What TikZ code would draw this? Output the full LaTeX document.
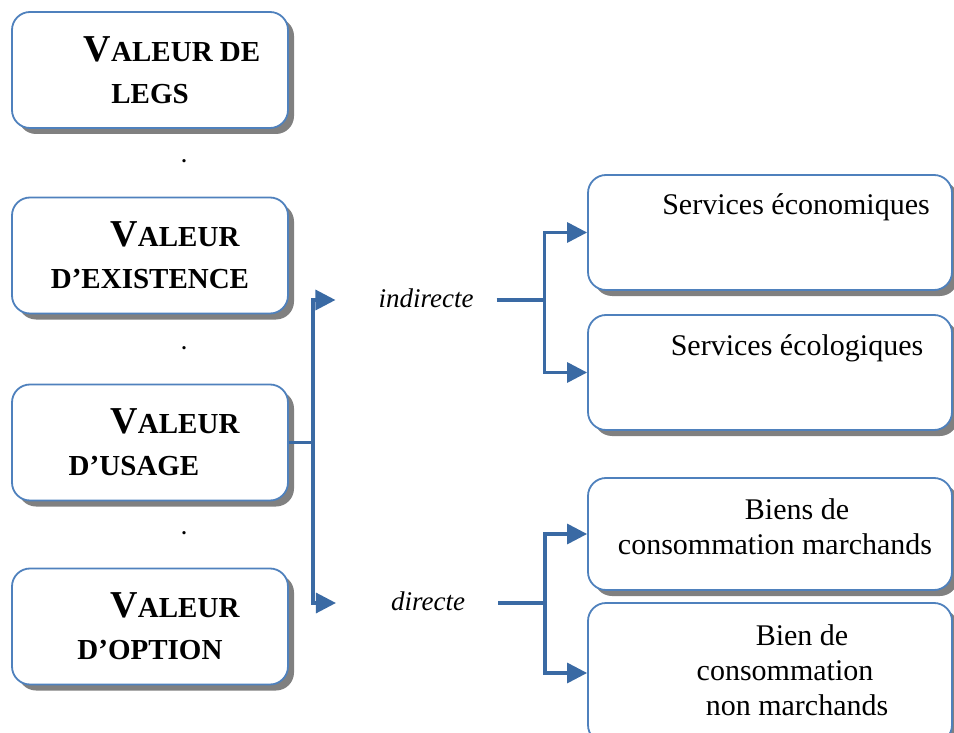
\documentclass[tikz,border=0pt]{standalone}
\usepackage{fontspec}
\setmainfont{Liberation Serif}
\usepackage{tikz}
\usetikzlibrary{arrows.meta,shadows}

\definecolor{boxblue}{RGB}{79,129,189}
\definecolor{linkblue}{RGB}{58,106,164}
\definecolor{shadowgray}{RGB}{128,128,128}

% Word-style small capitals: one big letter, the rest smaller.
\newcommand{\scbig}[1]{{\fontsize{19}{21}\selectfont #1}}

\tikzset{
	valbox/.style={draw=boxblue, line width=0.9pt, rounded corners=9pt, fill=white,
		minimum width=138pt, minimum height=58pt, align=center,
		font=\bfseries\fontsize{14.5}{21}\selectfont,
		drop shadow={shadow xshift=3pt, shadow yshift=-3pt, fill=shadowgray, opacity=1}},
	svcbox/.style={valbox, minimum width=182pt, minimum height=57.5pt},
	svctext/.style={align=center, font=\fontsize{15}{17.5}\selectfont},
	kindtext/.style={font=\itshape\fontsize{13.5}{16}\selectfont},
	link/.style={draw=linkblue, line width=1.6pt},
	linkarrow/.style={link, -{Triangle[length=10pt,width=10pt]}}
}

\begin{document}
\begin{tikzpicture}[x=0.5pt, y=-0.5pt]
		\clip (0,0) rectangle (954,733);

		% Value boxes.
		\node[valbox] (legs) at (150,70) {\hspace*{22pt}\scbig{V}ALEUR DE\\LEGS};
		\node[valbox] (exist) at (150,255.5) {\hspace*{25pt}\scbig{V}ALEUR\\D’EXISTENCE};
		\node[valbox] (usage) at (150,442.5) {\hspace*{25pt}\scbig{V}ALEUR\\D’USAGE\hspace*{16pt}};
		\node[valbox] (option) at (150,626.5) {\hspace*{25pt}\scbig{V}ALEUR\\D’OPTION};

		% Dots between the boxes.
		\node[font=\bfseries] (dotA) at (184,161) {.};
		\node[font=\bfseries] (dotB) at (184,348) {.};
		\node[font=\bfseries] (dotC) at (184,533) {.};

		% Goods and services boxes.
		\node[svcbox] (eco) at (770,232.5) {};
		\node[svcbox] (ecol) at (770,372.5) {};
		\node[svcbox, minimum height=56pt] (march) at (770,534) {};
		\node[svcbox, minimum height=70pt] (nonmarch) at (770,673) {};

		\node[svctext] (tEco) at (796,207) {Services économiques};
		\node[svctext] (tEcol) at (797,348) {Services écologiques};
		\node[svctext] (tMarch) at (775,527) {\hspace*{22pt}Biens de\\consommation marchands};
		\node[svctext] (tNonMarch) at (785,670) {\hspace*{17pt}Bien de\\consommation\hspace*{12pt}\\\hspace*{12pt}non marchands};

		% Use value: indirect and direct.
		\node[kindtext] (ind) at (426,298) {indirecte};
		\node[kindtext] (dir) at (428,601) {directe};

		\draw[link] (usage.east) -- ++(24,0) coordinate (split);
		\draw[linkarrow] (split) |- ([xshift=-18pt,yshift=-1pt]ind.west);
		\draw[linkarrow] (split) |- ([xshift=-24pt,yshift=-1pt]dir.west);

		\draw[link] ([xshift=8pt,yshift=-1pt]ind.east) -- ++(48,0) coordinate (splitInd);
		\draw[linkarrow] (splitInd) |- (eco.west);
		\draw[linkarrow] (splitInd) |- (ecol.west);

		\draw[link] ([xshift=13pt,yshift=-1pt]dir.east) -- ++(47,0) coordinate (splitDir);
		\draw[linkarrow] (splitDir) |- (march.west);
		\draw[linkarrow] (splitDir) |- (nonmarch.west);

	\end{tikzpicture}
\end{document}
